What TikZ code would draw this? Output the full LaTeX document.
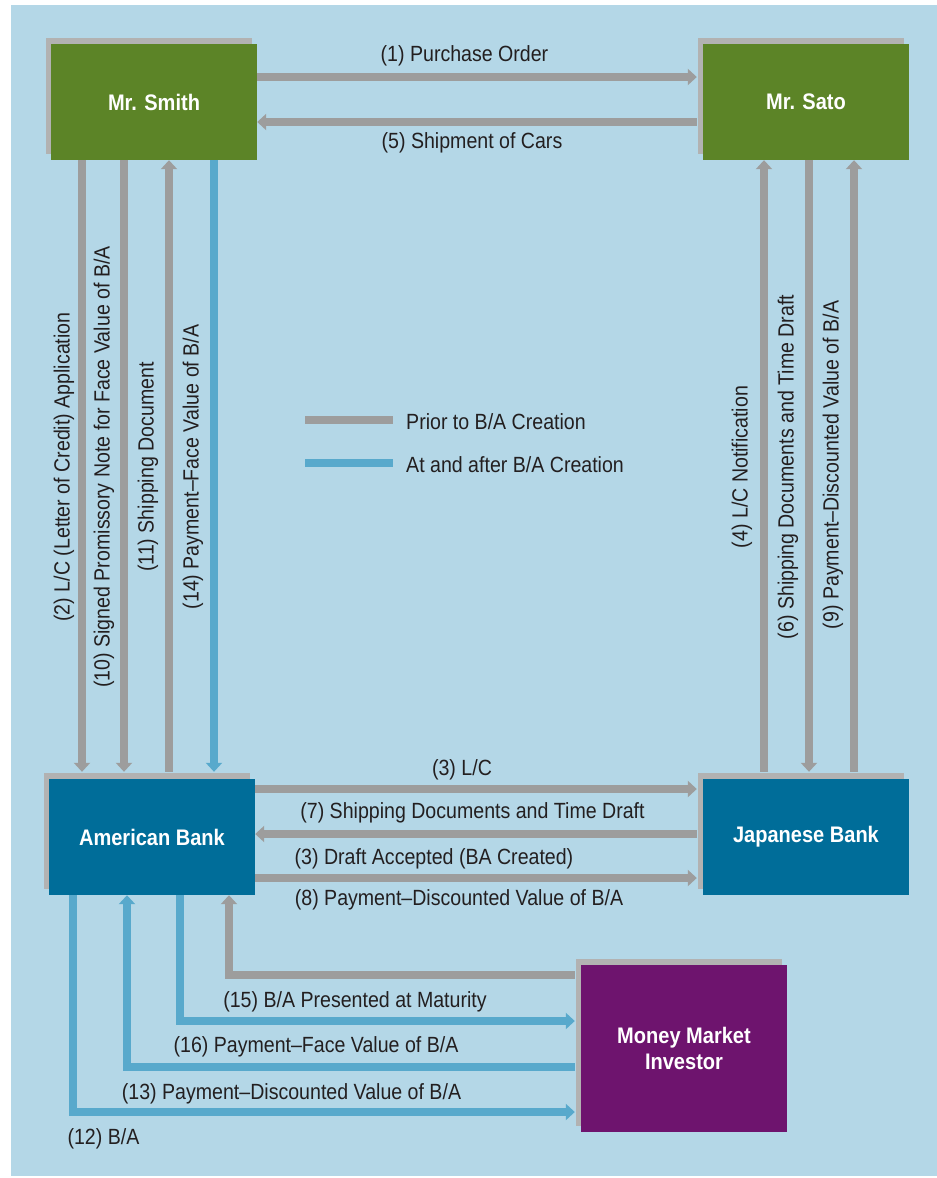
\documentclass[tikz,border=0pt]{standalone}
\usepackage{fontspec}
\setmainfont[FakeStretch=0.89]{Liberation Sans}
\usetikzlibrary{arrows.meta,shadows}

\definecolor{bgblue}{HTML}{B4D7E7}
\definecolor{smithgreen}{HTML}{5C8427}
\definecolor{bankblue}{HTML}{006D99}
\definecolor{investpurple}{HTML}{6E146E}
\definecolor{shadowgray}{HTML}{B2B2B2}
\definecolor{priorgray}{HTML}{9D9D9D}
\definecolor{afterblue}{HTML}{58A9CC}
\definecolor{labeltext}{HTML}{231F20}

\tikzset{
  party/.style={rectangle, minimum width=206pt, minimum height=116pt,
    inner sep=0pt, align=center, text=white,
    font=\fontsize{22.5}{26}\selectfont\bfseries,
    general shadow={fill=shadowgray, shadow xshift=-5pt, shadow yshift=6pt}},
  prior/.style={draw=priorgray, line width=8pt},
  after/.style={draw=afterblue, line width=8pt},
  lbl/.style={font=\fontsize{22}{26}\selectfont, text=labeltext, inner sep=0pt},
  vlbl/.style={lbl, rotate=90},
  >={Triangle[length=9pt,width=16pt]}
}

\begin{document}
\begin{tikzpicture}[x=1pt, y=-1pt]
  % page and background
  \useasboundingbox (0,0) rectangle (937,1178);
  \fill[bgblue] (11,5) rectangle (937,1176);

  % the parties
  \node[party, fill=smithgreen] (smith) at (154,102) {Mr. Smith};
  \node[party, fill=smithgreen] (sato) at (806,102) {Mr. Sato};
  \node[party, fill=bankblue] (amb) at (152,837) {American Bank};
  \node[party, fill=bankblue] (jpb) at (806,837) {Japanese Bank};
  \node[party, fill=investpurple, minimum height=167pt] (mmi) at (684,1048.5) {Money Market\\Investor};

  % Smith <-> Sato
  \draw[prior,->] ([yshift=25pt]smith.east) -- ([xshift=-6pt,yshift=25pt]sato.west);
  \node[lbl] (l1) at (464.5,56) {(1) Purchase Order};
  \draw[prior,->] ([xshift=-6pt,yshift=-20pt]sato.west) -- ([yshift=-20pt]smith.east);
  \node[lbl] (l5) at (472,143) {(5) Shipment of Cars};

  % Smith <-> American Bank
  \draw[prior,->] ([xshift=-72pt]smith.south) -- ([xshift=-70pt,yshift=7pt]amb.north);
  \node[vlbl] (l2) at (64,467) {(2) L/C (Letter of Credit) Application};
  \draw[prior,->] ([xshift=-30pt]smith.south) -- ([xshift=-28pt,yshift=7pt]amb.north);
  \node[vlbl] (l10) at (104,467) {(10) Signed Promissory Note for Face Value of B/A};
  \draw[prior,->] ([xshift=17pt,yshift=7pt]amb.north) -- ([xshift=15pt]smith.south);
  \node[vlbl] (l11) at (148,467) {(11) Shipping Document};
  \draw[after,->] ([xshift=60pt]smith.south) -- ([xshift=62pt,yshift=7pt]amb.north);
  \node[vlbl] (l14) at (193,467) {(14) Payment--Face Value of B/A};

  % Sato <-> Japanese Bank
  \draw[prior,->] ([xshift=-42pt,yshift=7pt]jpb.north) -- ([xshift=-42pt]sato.south);
  \node[vlbl] (l4) at (742,467) {(4) L/C Notification};
  \draw[prior,->] ([xshift=3pt]sato.south) -- ([xshift=3pt,yshift=7pt]jpb.north);
  \node[vlbl] (l6) at (788,467) {(6) Shipping Documents and Time Draft};
  \draw[prior,->] ([xshift=48pt,yshift=7pt]jpb.north) -- ([xshift=48pt]sato.south);
  \node[vlbl] (l9) at (833,465) {(9) Payment--Discounted Value of B/A};

  % American Bank <-> Japanese Bank
  \draw[prior,->] ([yshift=48pt]amb.east) -- ([xshift=-6pt,yshift=48pt]jpb.west);
  \node[lbl] (l3a) at (462,770) {(3) L/C};
  \draw[prior,->] ([xshift=-6pt,yshift=3pt]jpb.west) -- ([yshift=3pt]amb.east);
  \node[lbl] (l7) at (472.5,812.5) {(7) Shipping Documents and Time Draft};
  \draw[prior,->] ([yshift=-41pt]amb.east) -- ([xshift=-6pt,yshift=-41pt]jpb.west);
  \node[lbl] (l3b) at (434,859) {(3) Draft Accepted (BA Created)};
  \node[lbl] (l8) at (459,900) {(8) Payment--Discounted Value of B/A};

  % American Bank <-> Money Market Investor
  \draw[prior,->] ([xshift=-6pt,yshift=73.5pt]mmi.west) -| ([xshift=77pt]amb.south);
  \node[lbl] (l15) at (355,1002) {(15) B/A Presented at Maturity};
  \draw[after,->] ([xshift=28pt]amb.south) |- ([xshift=-6pt,yshift=27.5pt]mmi.west);
  \node[lbl] (l16) at (316,1047) {(16) Payment--Face Value of B/A};
  \draw[after,->] ([xshift=-6pt,yshift=-18.5pt]mmi.west) -| ([xshift=-25pt]amb.south);
  \node[lbl] (l13) at (291.5,1094) {(13) Payment--Discounted Value of B/A};
  \draw[after,->] ([xshift=-79pt]amb.south) |- ([xshift=-6pt,yshift=-63.5pt]mmi.west);
  \node[lbl] (l12) at (103.5,1139) {(12) B/A};

  % legend
  \draw[prior] (305,420) -- (393,420);
  \node[lbl, anchor=west] (lgprior) at (406,422) {Prior to B/A Creation};
  \draw[after] (305,463) -- (393,463);
  \node[lbl, anchor=west] (lgafter) at (406,465) {At and after B/A Creation};
\end{tikzpicture}
\end{document}
